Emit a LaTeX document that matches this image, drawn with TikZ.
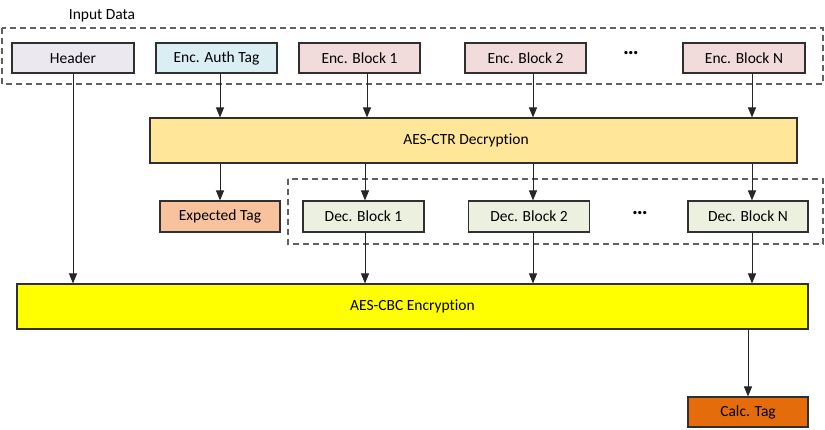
\documentclass[tikz,border=0pt]{standalone}
\usepackage{fontspec}
\setmainfont{Carlito}[Ligatures=NoCommon]
\usetikzlibrary{arrows.meta}
\definecolor{boxline}{HTML}{303030}
\definecolor{dashline}{HTML}{606060}
\definecolor{headerfill}{HTML}{EBE8F0}
\definecolor{authfill}{HTML}{DBEEF3}
\definecolor{encfill}{HTML}{F2DCDB}
\definecolor{ctrfill}{HTML}{FFE699}
\definecolor{expfill}{HTML}{F8C29C}
\definecolor{decfill}{HTML}{EBF1DE}
\definecolor{cbcfill}{HTML}{FFFF00}
\definecolor{calcfill}{HTML}{E46C0A}
\begin{document}
\begin{tikzpicture}[x=1pt,y=-1pt,
  every node/.style={font=\fontsize{15.5}{18}\selectfont, text=black},
  box/.style={draw=boxline, line width=1.1pt, inner sep=0pt, minimum height=30pt},
  smallbox/.style={box, minimum width=121pt},
  groupbox/.style={draw=dashline, line width=1.2pt, dash pattern=on 6pt off 4pt},
  arr/.style={draw=black!85, line width=1pt, -{Triangle[length=10pt,width=8pt]}},
  dotsnode/.style={font=\fontsize{22}{22}\bfseries\selectfont, inner sep=0pt}
]
\useasboundingbox (0,0) rectangle (825,430);

% group outlines
\draw[groupbox] (2,28) rectangle (823,84);
\draw[groupbox] (288,179) rectangle (823,244);
\node[inner sep=0pt] (inlabel) at (102,16) {Input Data};

% input row
\node[smallbox, fill=headerfill, minimum width=122pt] (header) at (73,58) {Header};
\node[smallbox, fill=authfill] (auth) at (216.5,58) {Enc. Auth Tag};
\node[smallbox, fill=encfill] (eb1) at (359.5,58) {Enc. Block 1};
\node[smallbox, fill=encfill] (eb2) at (525.5,58) {Enc. Block 2};
\node[dotsnode] (dots1) at (631,53) {…};
\node[smallbox, fill=encfill, minimum width=122pt] (ebn) at (744,58) {Enc. Block N};

% CTR
\node[box, fill=ctrfill, minimum width=647pt, minimum height=45pt] (ctr) at (473.5,140.5) {};
\node (ctrtext) at (466,140.5) {AES-CTR Decryption};

% decrypted row
\node[smallbox, fill=expfill, minimum width=120pt, minimum height=31pt] (exp) at (220,216.5) {Expected Tag};
\node[smallbox, fill=decfill, minimum height=31pt] (db1) at (363.5,216.5) {Dec. Block 1};
\node[smallbox, fill=decfill, minimum height=31pt] (db2) at (529,216.5) {Dec. Block 2};
\node[dotsnode] (dots2) at (640,213) {…};
\node[smallbox, fill=decfill, minimum width=120pt, minimum height=31pt] (dbn) at (748,216.5) {Dec. Block N};

% CBC
\node[box, fill=cbcfill, minimum width=791pt, minimum height=45pt] (cbc) at (412.5,306.5) {AES-CBC Encryption};

% result
\node[smallbox, fill=calcfill, minimum width=120pt] (calc) at (748,412) {Calc. Tag};

% arrow columns
\coordinate (xa) at (220,0);
\coordinate (x1) at (367,0);
\coordinate (x1d) at (365,0);
\coordinate (x2) at (533,0);
\coordinate (xn) at (752,0);
\coordinate (xc) at (748,0);

\draw[arr] (header.south) -- (header.south |- cbc.north);
\draw[arr] (auth.south -| xa) -- (xa |- ctr.north);
\draw[arr] (eb1.south -| x1) -- (x1 |- ctr.north);
\draw[arr] (eb2.south -| x2) -- (x2 |- ctr.north);
\draw[arr] (ebn.south -| xn) -- (xn |- ctr.north);

\draw[arr] (ctr.south -| xa) -- (xa |- exp.north);
\draw[arr] (ctr.south -| x1d) -- (x1d |- db1.north);
\draw[arr] (ctr.south -| x2) -- (x2 |- db2.north);
\draw[arr] (ctr.south -| xn) -- (xn |- dbn.north);

\draw[arr] (db1.south -| x1d) -- (x1d |- cbc.north);
\draw[arr] (db2.south -| x2) -- (x2 |- cbc.north);
\draw[arr] (dbn.south -| xn) -- (xn |- cbc.north);

\draw[arr] (cbc.south -| xc) -- (xc |- calc.north);
\end{tikzpicture}
\end{document}
